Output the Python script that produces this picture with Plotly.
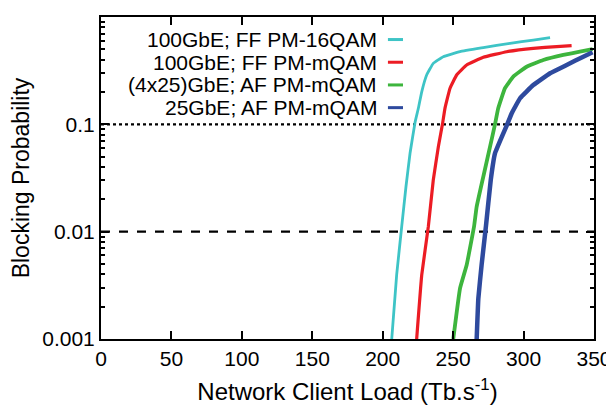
import plotly.graph_objects as go

# ---- data ----
cyan_x = [206.4, 209.9, 213.5, 216.5, 219.4, 223.0, 225.3, 227.7, 231.2, 235.9, 243.0,
          254.9, 271.4, 290.4, 306.9, 318.8]
cyan_y = [0.001, 0.00395, 0.0112, 0.0262, 0.0537, 0.105, 0.141, 0.201, 0.288, 0.37, 0.427,
          0.475, 0.518, 0.569, 0.61, 0.641]

red_x = [224.1, 227.7, 232.4, 235.9, 239.5, 242.4, 244.2, 247.8, 252.5, 259.6, 271.4,
         288.0, 306.9, 323.5, 334.1]
red_y = [0.001, 0.00395, 0.0112, 0.0303, 0.0619, 0.1, 0.141, 0.217, 0.288, 0.357, 0.421,
         0.475, 0.511, 0.529, 0.541]

green_x = [250.1, 254.9, 259.6, 264.9, 266.7, 271.4, 276.2, 279.7, 282.0, 286.8, 292.7,
           302.2, 314.0, 328.2, 340.0, 349.0]
green_y = [0.001, 0.00297, 0.00489, 0.0113, 0.0171, 0.0325, 0.0619, 0.1, 0.141, 0.217, 0.278,
           0.344, 0.397, 0.443, 0.475, 0.503]

blue_x = [266.7, 267.9, 270.2, 273.3, 276.7, 279.7, 285.0, 288.4, 291.6, 297.5, 306.9,
          318.8, 330.6, 342.4, 349.0]
blue_y = [0.001, 0.0024, 0.00489, 0.0113, 0.0303, 0.0537, 0.079, 0.1, 0.127, 0.175, 0.232,
          0.299, 0.357, 0.427, 0.469]

names = ["100GbE; FF PM-16QAM", "100GbE; FF PM-mQAM",
         "(4x25)GbE; AF PM-mQAM", "25GbE; AF PM-mQAM"]
colors = ["#3EC4C6", "#EC1C24", "#3DB53D", "#2E4A9E"]
widths = [2.8, 3.2, 3.8, 4.5]

ref_levels = [0.1, 0.01]
x_range = [0, 350]

xtick_vals = [0, 50, 100, 150, 200, 250, 300, 350]
ytick_vals = [0.001, 0.01, 0.1, 1]
ytick_text = ["0.001", "0.01", "0.1", "1"]

FONT = "Liberation Sans, Arial, Helvetica, sans-serif"

fig = go.Figure()

# reference lines
fig.add_trace(go.Scatter(x=x_range, y=[ref_levels[0]] * 2, mode="lines",
                         line=dict(color="black", width=2.2, dash="dot"),
                         showlegend=False, hoverinfo="skip"))
fig.add_trace(go.Scatter(x=x_range, y=[ref_levels[1]] * 2, mode="lines",
                         line=dict(color="black", width=2.2, dash="dash"),
                         showlegend=False, hoverinfo="skip"))

series = [(cyan_x, cyan_y), (red_x, red_y), (green_x, green_y), (blue_x, blue_y)]
for (xs, ys), n, c, w in zip(series, names, colors, widths):
    fig.add_trace(go.Scatter(x=xs, y=ys, mode="lines", name=n,
                             line=dict(color=c, width=w, shape="spline", smoothing=0.3),
                             showlegend=False))

# legend drawn as text + short line samples (text right-aligned, sample on the right)
row_y = [0.9300, 0.8595, 0.7890, 0.7185]
for n, c, yy in zip(names, colors, row_y):
    fig.add_annotation(x=0.562, y=yy, xref="paper", yref="paper", text=n,
                       showarrow=False, xanchor="right", yanchor="middle",
                       borderpad=0,
                       font=dict(family=FONT, size=21, color="black"))
    fig.add_shape(type="line", xref="paper", yref="paper",
                  x0=0.582, x1=0.6126, y0=yy, y1=yy,
                  line=dict(color=c, width=3))

# page body has an 8px margin, so the figure is offset by 8px
fig.update_layout(
    width=606, height=399,
    margin=dict(l=93, r=20, t=9, b=68, autoexpand=False),
    plot_bgcolor="white", paper_bgcolor="white",
    font=dict(family=FONT, size=21, color="black"),
    showlegend=False,
)
fig.update_xaxes(
    range=x_range, tickvals=xtick_vals, ticks="inside", ticklen=8, tickwidth=1.5,
    tickcolor="black", showline=True, linecolor="black", linewidth=2,
    mirror="allticks", showgrid=False, zeroline=False, automargin=False,
    title=dict(text="Network Client Load (Tb.s<sup>-1</sup>)",
               font=dict(family=FONT, size=24), standoff=14),
    tickfont=dict(family=FONT, size=21),
)
fig.update_yaxes(
    type="log", range=[-3, 0], tickvals=ytick_vals, ticktext=ytick_text,
    ticks="inside", ticklen=8, tickwidth=1.5, tickcolor="black",
    showline=True, linecolor="black", linewidth=2, mirror="allticks",
    showgrid=False, zeroline=False, automargin=False,
    minor=dict(ticks="inside", ticklen=4, tickwidth=1.5, tickcolor="black",
               dtick="D1", showgrid=False),
    title=dict(text="Blocking Probability", font=dict(family=FONT, size=23), standoff=8),
    tickfont=dict(family=FONT, size=21),
)

fig.write_html("out.html")
